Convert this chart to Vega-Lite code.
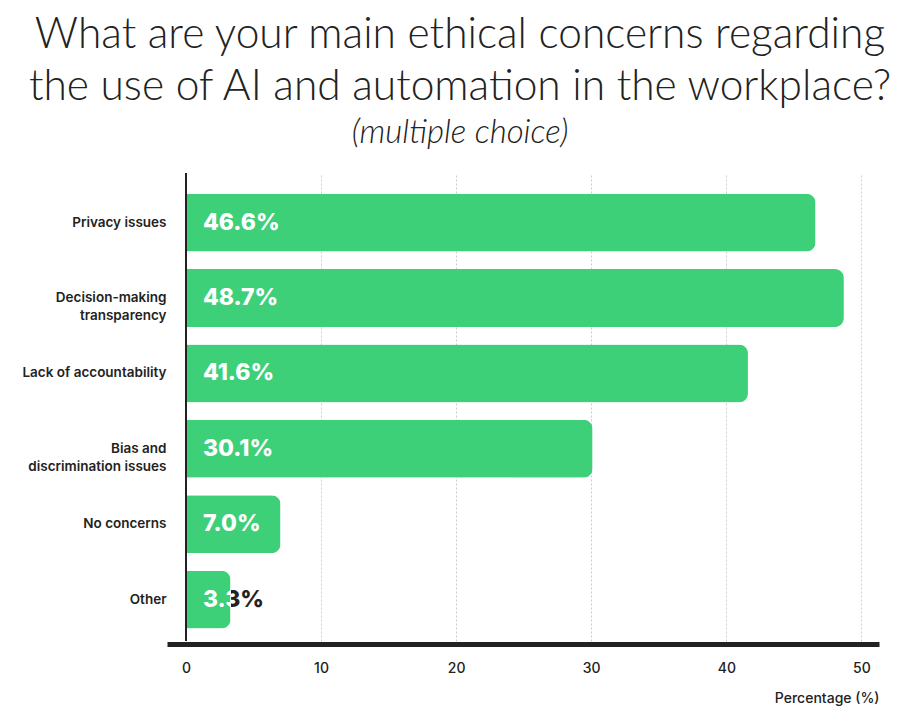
{
  "$schema": "https://vega.github.io/schema/vega-lite/v6.json",
  "width": 712,
  "height": 468,
  "autosize": "none",
  "padding": {"left": 167, "top": 173, "right": 21, "bottom": 79},
  "background": "white",
  "config": {"view": {"stroke": null}},
  "title": {
    "text": ["What are your main ethical concerns regarding", "the use of AI and automation in the workplace?"],
    "subtitle": "(multiple choice)",
    "font": "Lato", "fontWeight": 300, "fontSize": 42.5, "lineHeight": 52, "color": "#222",
    "subtitleFont": "Lato", "subtitleFontStyle": "italic", "subtitleFontWeight": 300, "subtitleFontSize": 33, "subtitleColor": "#222",
    "anchor": "middle", "frame": "group", "dx": -63, "offset": 22, "subtitlePadding": 9
  },
  "data": {"values": [
    {"concern": "Privacy issues", "pct": 46.6, "label": "46.6%"},
    {"concern": "Decision-making transparency", "pct": 48.7, "label": "48.7%"},
    {"concern": "Lack of accountability", "pct": 41.6, "label": "41.6%"},
    {"concern": "Bias and discrimination issues", "pct": 30.1, "label": "30.1%"},
    {"concern": "No concerns", "pct": 7.0, "label": "7.0%"},
    {"concern": "Other", "pct": 3.3, "label": "3.3%"}
  ]},
  "encoding": {
    "y": {
      "field": "concern", "type": "nominal", "sort": null,
      "scale": {"paddingInner": 0.231, "paddingOuter": 0.219, "align": 0.625},
      "axis": {
        "title": null, "domain": false, "ticks": false, "labelPadding": 1,
        "labelFont": "Inter", "labelFontSize": 13.5, "labelFontWeight": 600, "labelColor": "#222",
        "labelLineHeight": 18, "labelLimit": 200,
        "labelExpr": "datum.value == 'Decision-making transparency' ? ['Decision-making', 'transparency'] : datum.value == 'Bias and discrimination issues' ? ['Bias and', 'discrimination issues'] : datum.label"
      }
    }
  },
  "layer": [
    {
      "mark": {"type": "bar", "color": "#3ecf79", "cornerRadiusEnd": 9},
      "encoding": {
        "x": {
          "field": "pct", "type": "quantitative",
          "scale": {"domain": [-1.4, 51.3], "nice": false, "zero": false},
          "axis": {
            "values": [0, 10, 20, 30, 40, 50], "grid": true, "gridDash": [2, 2], "gridColor": "#cccccc", "gridWidth": 1,
            "domainColor": "#222", "domainWidth": 5, "offset": 3, "ticks": false, "labelPadding": 17,
            "labelFont": "Inter", "labelFontSize": 14, "labelFontWeight": 500, "labelColor": "#222",
            "title": "Percentage (%)", "titleAnchor": "end", "titleFont": "Inter", "titleFontSize": 14, "titleFontWeight": 500,
            "titleColor": "#222", "titlePadding": 16
          }
        }
      }
    },
    {
      "mark": {"type": "rule", "color": "#222", "strokeWidth": 1.5},
      "encoding": {"x": {"datum": 0}, "y": null}
    },
    {
      "transform": [{"filter": "datum.concern != 'Other'"}],
      "mark": {"type": "text", "align": "left", "baseline": "middle", "dx": 17, "font": "Inter", "fontSize": 23, "fontWeight": 800, "color": "white"},
      "encoding": {"x": {"datum": 0}, "text": {"field": "label"}}
    },
    {
      "transform": [{"filter": "datum.concern == 'Other'"}],
      "mark": {"type": "text", "align": "left", "baseline": "middle", "dx": 17, "font": "Inter", "fontSize": 23, "fontWeight": 800,
        "fill": {"gradient": "linear", "x1": 0, "x2": 1, "y1": 0, "y2": 0, "stops": [
          {"offset": 0, "color": "#ffffff"}, {"offset": 0.46, "color": "#ffffff"}, {"offset": 0.46, "color": "#222222"}, {"offset": 1, "color": "#222222"}]}},
      "encoding": {"x": {"datum": 0}, "text": {"field": "label"}}
    }
  ]
}
